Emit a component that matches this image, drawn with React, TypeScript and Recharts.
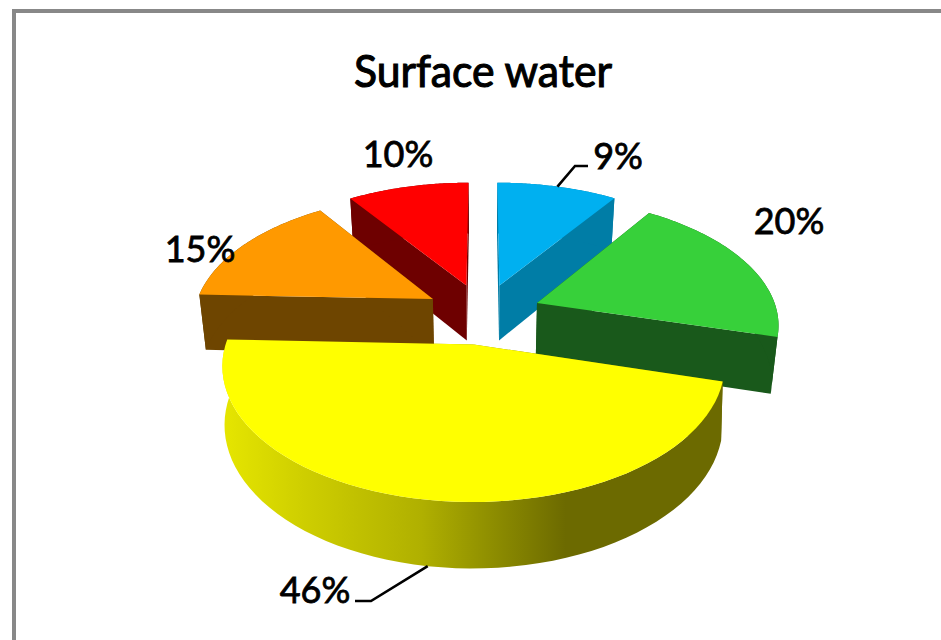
import React from "react";
import { PieChart, Pie, Cell } from "recharts";

const TITLE = "Surface water";
// Drawn clockwise, starting from the red slice
const sliceNames = ["red", "blue", "green", "yellow", "orange"];
const sliceValues = [9.5, 9.4, 19.9, 46.3, 14.9];

const topColors = ["#FF0000", "#00B0F0", "#37D03A", "#FFFF00", "#FF9900"];
const wallColors = ["#6E0000", "#007DA6", "#19591B", "url(#yellowWall)", "#6E4500"];

const chartData = sliceNames.map((name, i) => ({ name, value: sliceValues[i] }));

// 3D view of the pie (ratios of the Pie's outerRadius)
const VIEW = {
  topSquash: 0.5185,
  bottomDrop: 56,
  bottomSquash: 0.539,
  bottomWidth: 0.977,
  perspective: 0.15,
  explode: 0.24,
};
const topScale = [1, 1, 0.99, 0.985, 0.985];
const bottomScale = [1, 1, 0.99, 1, 0.985];

const labelLayout: Record<string, { x: number; y: number; elbow?: number[][] }> = {
  red: { x: 398, y: 167 },
  blue: { x: 618, y: 169, elbow: [[575, 166], [588, 166]] },
  green: { x: 789, y: 234 },
  yellow: { x: 315, y: 603, elbow: [[371, 601], [355, 601]] },
  orange: { x: 200, y: 262 },
};

const RAD = Math.PI / 180;

type Plane = "top" | "bottom";
function project(cx: number, cy: number, r: number, gx: number, gy: number, plane: Plane): [number, number] {
  const s = 1 / (1 - VIEW.perspective * gy);
  if (plane === "top") return [cx + r * gx * s, cy + r * VIEW.topSquash * gy * s];
  return [cx + r * VIEW.bottomWidth * gx * s, cy + VIEW.bottomDrop + r * VIEW.bottomSquash * gy * s];
}

function slicePoints(p: any, plane: Plane) {
  const { cx, cy, outerRadius: r, startAngle, endAngle, index } = p;
  const scale = (plane === "top" ? topScale : bottomScale)[index] ?? 1;
  const mid = ((startAngle + endAngle) / 2) * RAD;
  const ex = Math.cos(mid) * VIEW.explode;
  const ey = -Math.sin(mid) * VIEW.explode;
  const tip = project(cx, cy, r, ex, ey, plane);
  const arc: [number, number][] = [];
  const steps = 60;
  for (let i = 0; i <= steps; i++) {
    const a = (startAngle + ((endAngle - startAngle) * i) / steps) * RAD;
    arc.push(project(cx, cy, r, ex + scale * Math.cos(a), ey - scale * Math.sin(a), plane));
  }
  return { tip, arc };
}

const toPath = (pts: number[][]) =>
  "M" + pts.map((q) => `${q[0].toFixed(2)},${q[1].toFixed(2)}`).join("L") + "Z";

function WallShape(props: any) {
  const top = slicePoints(props, "top");
  const bottom = slicePoints(props, "bottom");
  const n = top.arc.length - 1;
  const fill = props.fill;
  const outer = [...top.arc, ...[...bottom.arc].reverse()];
  const startWall = [top.tip, top.arc[0], bottom.arc[0], bottom.tip];
  const endWall = [top.tip, top.arc[n], bottom.arc[n], bottom.tip];
  return (
    <g>
      <defs>
        <linearGradient id="yellowWall" gradientUnits="userSpaceOnUse" x1={222} y1={0} x2={720} y2={0}>
          <stop offset="0" stopColor="#E6E600" />
          <stop offset="0.16" stopColor="#CFCF00" />
          <stop offset="0.4" stopColor="#B0B000" />
          <stop offset="0.52" stopColor="#939300" />
          <stop offset="0.69" stopColor="#6C6A00" />
          <stop offset="1" stopColor="#6C6A00" />
        </linearGradient>
      </defs>
      <path d={toPath(startWall)} fill={fill} />
      <path d={toPath(endWall)} fill={fill} />
      <path d={toPath(outer)} fill={fill} />
    </g>
  );
}

function TopShape(props: any) {
  const top = slicePoints(props, "top");
  return <path d={toPath([top.tip, ...top.arc])} fill={props.fill} />;
}

function SliceLabel(props: any) {
  const { cx, cy, outerRadius: r, midAngle, percent, index } = props;
  const layout = labelLayout[sliceNames[index]];
  const m = midAngle * RAD;
  const gx = Math.cos(m) * (1 + VIEW.explode);
  const gy = -Math.sin(m) * (1 + VIEW.explode);
  const anchor = project(cx, cy, r, gx, gy, gy > 0 ? "bottom" : "top");
  return (
    <g>
      {layout.elbow && (
        <polyline
          points={[anchor, ...layout.elbow].map((q) => q.join(",")).join(" ")}
          fill="none"
          stroke="#000"
          strokeWidth={2.6}
        />
      )}
      <text
        x={layout.x}
        y={layout.y}
        textAnchor="middle"
        fontFamily="Lato"
        fontSize={36}
        fill="#000"
        stroke="#000"
        strokeWidth={0.8}
      >
        {`${Math.round(percent * 100)}%`}
      </text>
    </g>
  );
}

export default function App() {
  return (
    <div style={{ position: "absolute", left: 0, top: 0, width: 941, height: 640, overflow: "hidden", background: "#fff" }}>
      <div
        style={{
          position: "absolute",
          left: 12,
          top: 9,
          width: 929,
          height: 631,
          boxSizing: "border-box",
          borderTop: "4px solid #888",
          borderLeft: "4px solid #888",
        }}
      />
      <PieChart width={941} height={640} margin={{ top: 0, right: 0, bottom: 0, left: 0 }} style={{ position: "absolute", left: 0, top: 0 }}>
        <text
          x={483}
          y={87}
          textAnchor="middle"
          fontFamily="Lato"
          fontSize={44}
          textLength={258}
          lengthAdjust="spacingAndGlyphs"
          fill="#000"
          stroke="#000"
          strokeWidth={1.1}
        >
          {TITLE}
        </text>
        <Pie
          data={chartData}
          dataKey="value"
          cx={483}
          cy={313.5}
          outerRadius={243}
          startAngle={124.2}
          endAngle={-235.8}
          stroke="none"
          shape={WallShape}
          isAnimationActive={false}
        >
          {chartData.map((d, i) => (
            <Cell key={d.name} fill={wallColors[i]} />
          ))}
        </Pie>
        <Pie
          data={chartData}
          dataKey="value"
          cx={483}
          cy={313.5}
          outerRadius={243}
          startAngle={124.2}
          endAngle={-235.8}
          stroke="none"
          shape={TopShape}
          label={SliceLabel}
          labelLine={false}
          isAnimationActive={false}
        >
          {chartData.map((d, i) => (
            <Cell key={d.name} fill={topColors[i]} />
          ))}
        </Pie>
      </PieChart>
    </div>
  );
}
